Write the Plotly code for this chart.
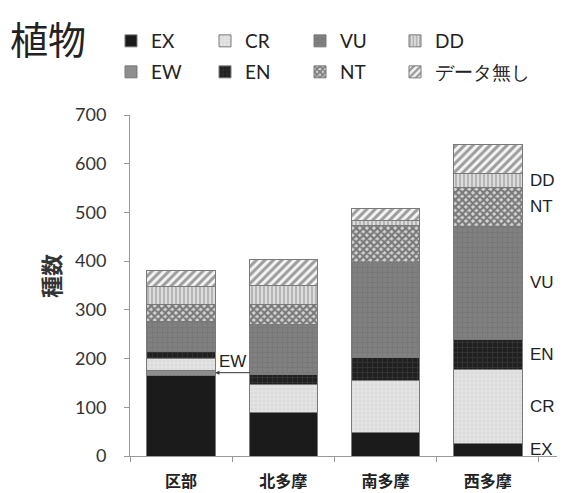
import plotly.graph_objects as go

regions = ["区部", "北多摩", "南多摩", "西多摩"]
EX = [166, 90, 48, 25]
EW = [10, 0, 0, 0]
CR = [24, 56, 108, 153]
EN = [15, 22, 47, 62]
VU = [61, 101, 194, 231]
NT = [36, 41, 76, 81]
DD = [36, 41, 10, 27]
NODATA = [33, 53, 25, 60]
y_ticks = [0, 100, 200, 300, 400, 500, 600, 700]

# (name, values, marker style, legend row, legend column)
series = [
    ("EX", EX, dict(color="#1b1b1b"), 0, 0),
    ("EW", EW, dict(color="#8e8e8e"), 1, 0),
    ("CR", CR, dict(color="#dedede", pattern=dict(shape="+", fgcolor="#bdbdbd", bgcolor="#e4e4e4", size=4, solidity=0.25)), 0, 1),
    ("EN", EN, dict(color="#262626", pattern=dict(shape="+", fgcolor="#4a4a4a", bgcolor="#202020", size=5, solidity=0.3)), 1, 1),
    ("VU", VU, dict(color="#7b7b7b", pattern=dict(shape="+", fgcolor="#6c6c6c", bgcolor="#808080", size=5, solidity=0.25)), 0, 2),
    ("NT", NT, dict(color="#444", pattern=dict(shape="x", fgcolor="#1e1e1e", bgcolor="#d4d4d4", size=5, solidity=0.65)), 1, 2),
    ("DD", DD, dict(color="#bbb", pattern=dict(shape="|", fgcolor="#7a7a7a", bgcolor="#dcdcdc", size=4, solidity=0.4)), 0, 3),
    ("データ無し", NODATA, dict(color="#666", pattern=dict(shape="/", fgcolor="#444", bgcolor="#f4f4f4", size=6, solidity=0.5)), 1, 3),
]

W, H = 571, 493
L, R, T, B = 130, 14, 115, 37
PW, PH = W - L - R, H - T - B
LEG_X = [111, 205, 300, 395]
LEG_Y = [41, 72]


def px_x(px):
    return (px - L) / PW


def px_y(py):
    return (H - B - py) / PH


legfont = dict(family="Lato", size=19, color="#222")
fig = go.Figure()
legends = {}
for i, (name, vals, marker, row, col) in enumerate(series):
    m = dict(marker)
    m["line"] = dict(color="#7a7a7a", width=1)
    key = "legend" if i == 0 else f"legend{i + 1}"
    fig.add_trace(go.Bar(x=regions, y=vals, name=name, marker=m, legend=key))
    legends[key] = dict(orientation="h", xref="container", yref="container",
                        x=LEG_X[col] / W, y=1 - LEG_Y[row] / H, xanchor="left", yanchor="middle",
                        font=legfont, bgcolor="rgba(0,0,0,0)")

# right-hand labels at midpoints of the last bar
labels = ["EX", "CR", "EN", "VU", "NT", "DD"]
order = [("EX", EX), ("EW", EW), ("CR", CR), ("EN", EN), ("VU", VU), ("NT", NT), ("DD", DD), ("データ無し", NODATA)]
cum = 0
mids = {}
for n, v in order:
    mids[n] = cum + v[-1] / 2
    cum += v[-1]
annotations = []
for n in labels:
    annotations.append(dict(x=3.335, y=mids[n], xref="x", yref="y", text=n, showarrow=False,
                            xanchor="left", xshift=6, font=dict(family="Liberation Sans", size=17, color="#222")))

ew_y = EX[0] + EW[0] / 2
annotations.append(dict(x=0.335, y=ew_y, xref="x", yref="y", text="", showarrow=True, ax=36, ay=0,
                        arrowhead=2, arrowsize=0.8, arrowwidth=1, arrowcolor="#333"))
annotations.append(dict(x=0.335, y=ew_y, xref="x", yref="y", text="EW", showarrow=False,
                        xanchor="left", yanchor="bottom", xshift=2, yshift=0,
                        font=dict(family="Liberation Sans", size=17, color="#222")))
annotations.append(dict(x=px_x(8), y=px_y(8), xref="paper", yref="paper", text="植物", showarrow=False,
                        xanchor="left", yanchor="top", font=dict(family="Noto Sans CJK JP", size=38, color="#222")))
annotations.append(dict(x=px_x(50), y=px_y(276), xref="paper", yref="paper", text="<b>種数</b>", showarrow=False,
                        xanchor="center", yanchor="middle",
                        textangle=-90, font=dict(family="Noto Sans CJK JP", size=22, color="#333")))
fig.update_layout(annotations=annotations)

fig.update_layout(
    width=W, height=H,
    margin=dict(l=L, r=R, t=T, b=B, autoexpand=False),
    plot_bgcolor="white", paper_bgcolor="white",
    barmode="stack", bargap=0.33,
    showlegend=True,
    **legends,
    xaxis=dict(showline=True, linecolor="#999", linewidth=1, ticks="outside", tickson="boundaries",
               ticklen=5, tickcolor="#999", showgrid=False, automargin=False,
               tickfont=dict(family="Noto Sans CJK JP", size=16, color="#222"),
               tickprefix="<b>", ticksuffix="</b>", ticklabelstandoff=11),
    yaxis=dict(range=[0, 700], tickvals=y_ticks, showline=True, linecolor="#999", linewidth=1,
               ticks="outside", ticklen=5, tickcolor="#999", showgrid=False, zeroline=False,
               automargin=False,
               tickfont=dict(family="Lato", size=18, color="#333"), ticklabelstandoff=14),
)
fig.write_html("out.html")
